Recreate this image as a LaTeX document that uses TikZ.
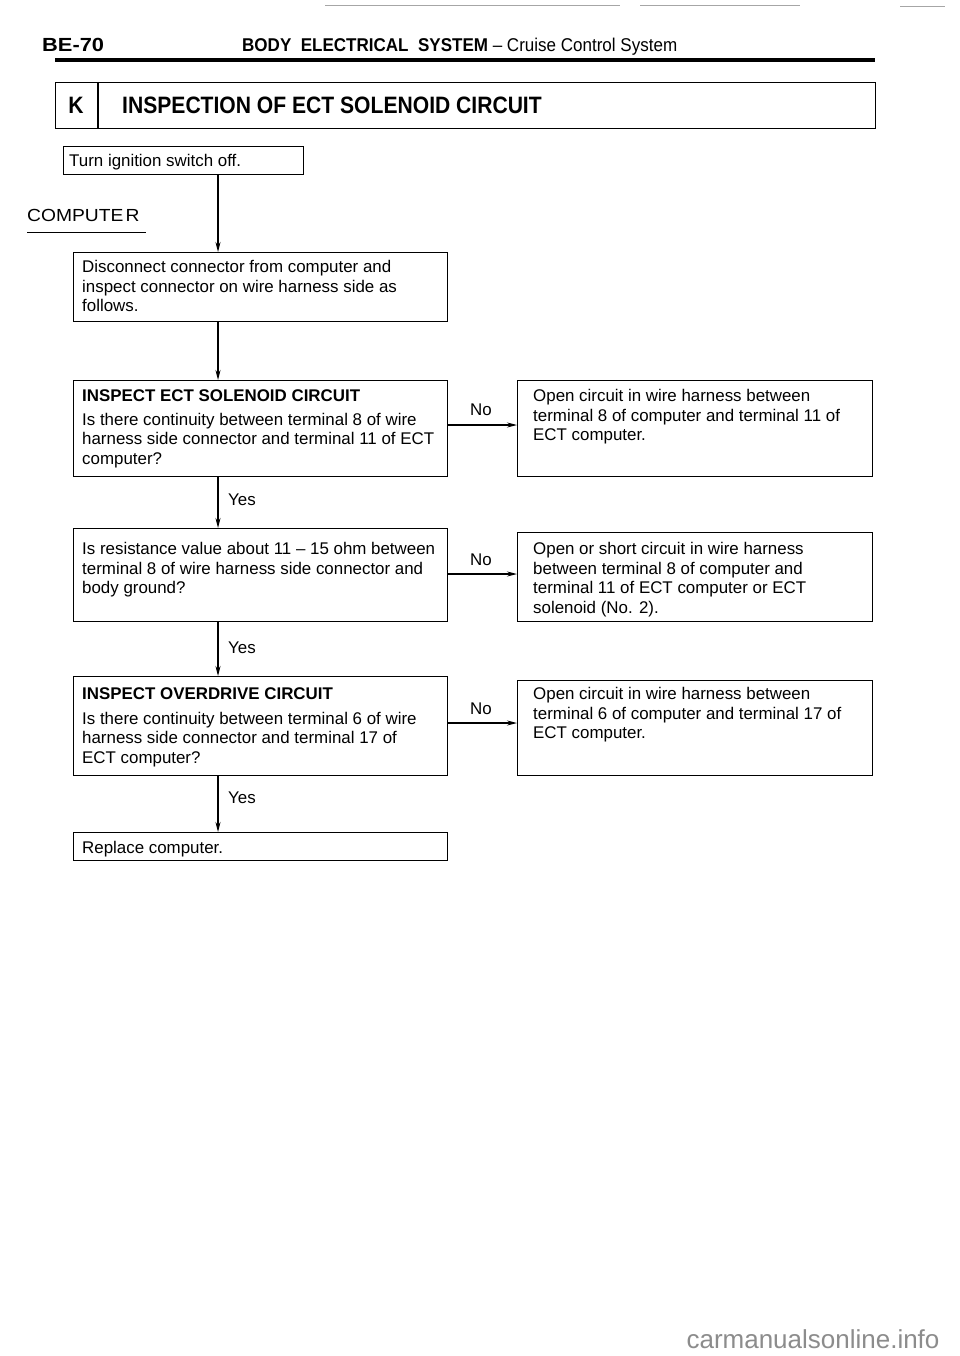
\documentclass[tikz,border=0pt]{standalone}
\usepackage{fontspec}
\usepackage{graphicx}
\setmainfont{Liberation Sans}
\newfontfamily\condfont[FakeStretch=0.89]{Liberation Sans}
\newfontfamily\hdrfont[FakeStretch=0.92]{Liberation Sans}
\usetikzlibrary{arrows.meta,calc}
\begin{document}
\begin{tikzpicture}[x=1pt,y=-1pt,
  box/.style={draw, line width=1.3pt, inner sep=0pt, anchor=north west},
  txt/.style={anchor=north west, inner sep=0pt, align=left, font=\fontsize{16.9}{19.6}\selectfont},
  lbl/.style={inner sep=0pt, font=\fontsize{16.9}{19.6}\selectfont},
  arr/.style={line width=1.1pt, -{Stealth[length=10pt,width=5pt]}}]
\useasboundingbox (0,0) rectangle (960,1356);
\fill[white] (0,0) rectangle (960,1356);
% scan artifact at the top
\draw[black!35, line width=0.8pt] (325,5) -- (620,5) (640,5) -- (800,5) (900,6) -- (945,6);
% header
\node[anchor=base west, inner sep=0pt, font=\hdrfont\bfseries\fontsize{19}{20}\selectfont] (be) at (42,52) {\scalebox{1.25}[1]{BE-70}};
\node[anchor=base west, inner sep=0pt, font=\hdrfont\fontsize{18.5}{20}\selectfont] (hdr) at (242,52) {{\bfseries BODY\ \ ELECTRICAL\ \ SYSTEM} – Cruise Control System};
\draw[line width=3.5pt] (55,60) -- (875,60);
% title box
\node[box, minimum width=820pt, minimum height=46pt] (title) at (55,82) {};
\coordinate (div) at (98,0);
\draw[line width=1.3pt] (title.north -| div) -- (title.south -| div);
\node[inner sep=0pt, font=\condfont\bfseries\fontsize{23.7}{26}\selectfont] (k) at (76,105) {K};
\node[anchor=west, inner sep=0pt, font=\condfont\bfseries\fontsize{23.7}{26}\selectfont] (ttl) at (122,105) {INSPECTION OF ECT SOLENOID CIRCUIT};
% COMPUTER label
\node[anchor=west, inner sep=0pt, font=\fontsize{17.5}{20}\selectfont] (comp) at (27,215) {\scalebox{1.1}[1]{COMPUTE\kern2pt R}};
\draw[line width=1pt] (27,233) -- (146,233);
% boxes
\node[box, minimum width=240pt, minimum height=28pt] (turn) at (63,146) {};
\node[box, minimum width=374pt, minimum height=69pt] (disc) at (73,252) {};
\node[box, minimum width=374pt, minimum height=96pt] (ect) at (73,380) {};
\node[box, minimum width=355pt, minimum height=96pt] (open1) at (517,380) {};
\node[box, minimum width=374pt, minimum height=93pt] (res) at (73,528) {};
\node[box, minimum width=355pt, minimum height=89pt] (short) at (517,532) {};
\node[box, minimum width=374pt, minimum height=99pt] (od) at (73,676) {};
\node[box, minimum width=355pt, minimum height=95pt] (open3) at (517,680) {};
\node[box, minimum width=374pt, minimum height=28pt] (repl) at (73,832) {};
% texts
\node[txt] (turn-t) at (69,154) {Turn ignition switch off.};
\node[txt] (disc-t) at (82,260) {Disconnect connector from computer and\\inspect connector on wire harness side as\\follows.};
\node[txt] (ect-t) at (82,389) {{\bfseries INSPECT ECT SOLENOID CIRCUIT}\\[4.5pt]Is there continuity between terminal 8 of wire\\harness side connector and terminal 11 of ECT\\computer?};
\node[txt] (open1-t) at (533,389) {Open circuit in wire harness between\\terminal 8 of computer and terminal 11 of\\ECT computer.};
\node[txt] (res-t) at (82,542) {Is resistance value about 11 – 15 ohm between\\terminal 8 of wire harness side connector and\\body ground?};
\node[txt] (short-t) at (533,542) {Open or short circuit in wire harness\\between terminal 8 of computer and\\terminal 11 of ECT computer or ECT\\solenoid (No. 2).};
\node[txt] (od-t) at (82,687) {{\bfseries INSPECT OVERDRIVE CIRCUIT}\\[5.5pt]Is there continuity between terminal 6 of wire\\harness side connector and terminal 17 of\\ECT computer?};
\node[txt] (open3-t) at (533,687) {Open circuit in wire harness between\\terminal 6 of computer and terminal 17 of\\ECT computer.};
\node[txt] (repl-t) at (82,841) {Replace computer.};
% connectors
\coordinate (cx) at (218,0);
\draw[arr] (turn.south -| cx) -- (disc.north -| cx);
\draw[arr] (disc.south -| cx) -- (ect.north -| cx);
\draw[arr] (ect.south -| cx) -- (res.north -| cx);
\draw[arr] (res.south -| cx) -- (od.north -| cx);
\draw[arr] (od.south -| cx) -- (repl.north -| cx);
\coordinate (n1) at (0,425);
\coordinate (n2) at (0,574);
\coordinate (n3) at (0,723);
\draw[arr] (ect.east |- n1) -- (open1.west |- n1);
\draw[arr] (res.east |- n2) -- (short.west |- n2);
\draw[arr] (od.east |- n3) -- (open3.west |- n3);
% labels
\node[lbl, anchor=west] (y1) at (228,500) {Yes};
\node[lbl, anchor=west] (y2) at (228,648) {Yes};
\node[lbl, anchor=west] (y3) at (228,798) {Yes};
\node[lbl] (no1) at (481,410) {No};
\node[lbl] (no2) at (481,560) {No};
\node[lbl] (no3) at (481,709) {No};
% watermark
\node[text=black!45, inner sep=0pt, font=\fontsize{26}{30}\selectfont] (wm) at (813,1339) {carmanualsonline.info};
\end{tikzpicture}
\end{document}
